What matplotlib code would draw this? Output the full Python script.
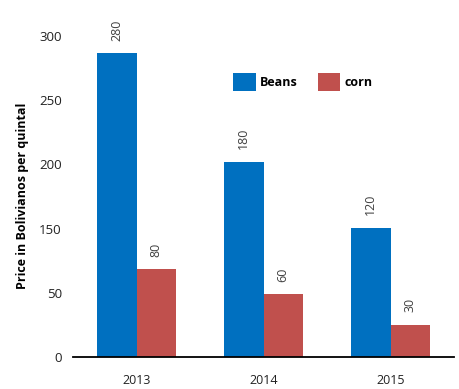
import matplotlib.pyplot as plt
import numpy as np

plt.rcParams['font.family'] = ['Open Sans', 'DejaVu Sans']

years = ['2013', '2014', '2015']
# bar heights as drawn (in axis step units, 50 per gridstep)
beans = [236.5, 152, 100.5]
corn = [68.5, 49, 25]
# the value labels printed above the bars
beans_labels = ['280', '180', '120']
corn_labels = ['80', '60', '30']
ytick_pos = [0, 50, 100, 150, 200, 250]
ytick_labels = ['0', '50', '150', '200', '250', '300']

blue = '#0070C0'
red = '#C0504D'

fig = plt.figure(figsize=(4.59, 3.89), dpi=100)
ax = fig.add_axes([73 / 459, 32 / 389, 381 / 459, 334 / 389])

x = np.arange(len(years))
w = 0.31
b1 = ax.bar(x - w / 2, beans, w, color=blue, label='Beans')
b2 = ax.bar(x + w / 2, corn, w, color=red, label='corn')

for bars, labs in ((b1, beans_labels), (b2, corn_labels)):
    for r, t in zip(bars, labs):
        ax.annotate(t, (r.get_x() + r.get_width() / 2, r.get_height()),
                    xytext=(0, 9), textcoords='offset points',
                    rotation=90, ha='center', va='bottom',
                    fontsize=9, color='#404040')

ax.set_xlim(-0.5, 2.5)
ax.set_ylim(0, 260)
ax.set_xticks(x)
ax.set_xticklabels(years, fontsize=9, color='#222222')
ax.set_yticks(ytick_pos)
ax.set_yticklabels(ytick_labels, fontsize=9.5, color='#222222')
ax.tick_params(axis='both', length=0)
ax.tick_params(axis='x', pad=12)
ax.tick_params(axis='y', pad=8)

for s in ('top', 'right', 'left'):
    ax.spines[s].set_visible(False)
ax.spines['bottom'].set_linewidth(1.3)
ax.spines['bottom'].set_color('black')

ax.set_ylabel('Price in Bolivianos per quintal', fontsize=9, fontweight='bold')
ax.yaxis.set_label_coords(-0.116, (357 - 196) / 334)

leg = ax.legend(loc='center', bbox_to_anchor=((303 - 73) / 381, (357 - 82) / 334),
                ncol=2, frameon=False, handlelength=1.8, handleheight=1.8,
                handletextpad=0.35, columnspacing=1.6,
                prop={'weight': 'bold', 'size': 9})

fig.savefig('out.png', dpi=100)
